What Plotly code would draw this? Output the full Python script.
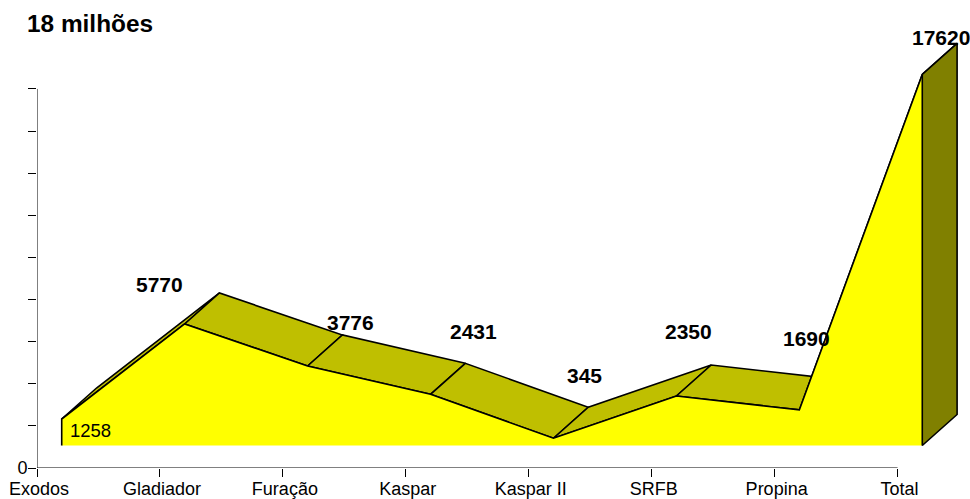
import plotly.graph_objects as go

categories = ["Exodos", "Gladiador", "Furação", "Kaspar", "Kaspar II", "SRFB", "Propina", "Total"]
values = [1258, 5770, 3776, 2431, 345, 2350, 1690, 17620]
y_ticks = [0, 2000, 4000, 6000, 8000, 10000, 12000, 14000, 16000, 18000]
y_tick_labels = ["0", "", "", "", "", "", "", "", "", ""]
title_text = "18 milhões"

# pseudo-3D geometry, in axis units
PLOT_L, PLOT_B = 37.3, 31
PX_PER_CAT = 122.9
PX_PER_UNIT = 0.02106
W, H = 970, 499
x_max = (W - PLOT_L) / PX_PER_CAT
y_max = (H - PLOT_B) / PX_PER_UNIT
wall_dx = 24.7 / PX_PER_CAT      # series wall sits behind the axes
wall_dy = 22.5 / PX_PER_UNIT
depth_dx = 34.8 / PX_PER_CAT
depth_dy = 31 / PX_PER_UNIT

# pixel shift of each value label from its data point
label_shift = [(29, -11), (-25, 39), (43, 43), (43, 63), (31, 63), (12, 65), (7, 71), (19, 37)]

FONT = "Liberation Sans, Arial, sans-serif"
LW = 1.6

fx = [i + wall_dx for i in range(len(values))]
fy = [v + wall_dy for v in values]
bx = [x + depth_dx for x in fx]
by = [y + depth_dy for y in fy]

fig = go.Figure()


def poly(xs, ys, fill, line=True):
    fig.add_trace(go.Scatter(
        x=xs, y=ys, mode="lines", fill="toself", fillcolor=fill,
        line=dict(color="black" if line else fill, width=LW if line else 0),
        hoverinfo="skip", showlegend=False, cliponaxis=False))


# top surface ribbon, one parallelogram per segment
for i in range(len(values) - 1):
    poly([fx[i], fx[i + 1], bx[i + 1], bx[i], fx[i]],
         [fy[i], fy[i + 1], by[i + 1], by[i], fy[i]], "#BFBF00")

# front face: filled, outlined on all but the base
poly([fx[0]] + fx + [fx[-1], fx[0]], [wall_dy] + fy + [wall_dy, wall_dy], "#FFFF00", line=False)
fig.add_trace(go.Scatter(
    x=[fx[0]] + fx, y=[wall_dy] + fy, mode="lines",
    line=dict(color="black", width=LW), hoverinfo="skip", showlegend=False))

# right side wall
poly([fx[-1], bx[-1], bx[-1], fx[-1], fx[-1]],
     [fy[-1], by[-1], wall_dy + depth_dy, wall_dy, fy[-1]], "#808000")

# axis lines, which stop at the last tick
for xs, ys in [([0, len(categories) - 1], [0, 0]), ([0, 0], [0, y_ticks[-1]])]:
    fig.add_trace(go.Scatter(
        x=xs, y=ys, mode="lines", line=dict(color="black", width=1),
        hoverinfo="skip", showlegend=False, cliponaxis=False))

for i, v in enumerate(values):
    sx, sy = label_shift[i]
    fig.add_annotation(
        x=fx[i], y=fy[i], text=str(v) if i == 0 else f"<b>{v}</b>", showarrow=False,
        xshift=sx, yshift=sy, xanchor="center", yanchor="middle",
        font=dict(family=FONT, size=18.5 if i == 0 else 21, color="black"))

fig.update_layout(
    width=W, height=H, autosize=False,
    margin=dict(l=PLOT_L, r=0, t=0, b=PLOT_B, pad=0, autoexpand=False),
    paper_bgcolor="white", plot_bgcolor="white", showlegend=False,
    font=dict(family=FONT, size=18, color="black"),
    title=dict(text=f"<b>{title_text}</b>", x=27 / W, xref="container", xanchor="left",
               y=1 - 23 / H, yanchor="middle", automargin=False,
               font=dict(family=FONT, size=24.4, color="black")),
    xaxis=dict(range=[0, x_max], tickmode="array", tickvals=list(range(len(categories))),
               ticktext=categories, ticks="outside", ticklen=8, tickwidth=1, tickcolor="black",
               showgrid=False, zeroline=False, showline=False, tickangle=0, automargin=False,
               ticklabelshift=2, ticklabelstandoff=-4,
               tickfont=dict(family=FONT, size=18, color="black")),
    yaxis=dict(range=[0, y_max], tickmode="array", tickvals=y_ticks, ticktext=y_tick_labels,
               ticks="outside", ticklen=8, tickwidth=1, tickcolor="black",
               showgrid=False, zeroline=False, showline=False, automargin=False,
               ticklabelstandoff=-3,
               tickfont=dict(family=FONT, size=18, color="black")),
)
fig.write_html("out.html", config={"displayModeBar": False},
               post_script="document.body.style.margin='0';document.documentElement.style.overflow='hidden';")
